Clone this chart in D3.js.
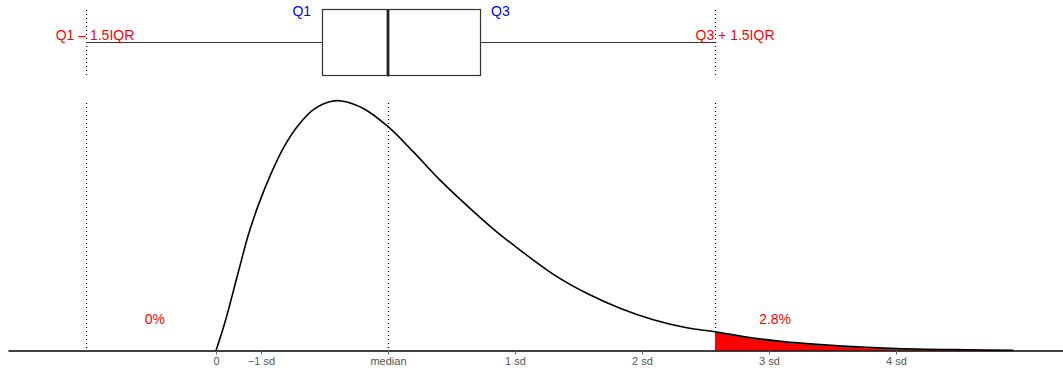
<!DOCTYPE html>
<html>
<head>
<meta charset="utf-8">
<script src="https://cdn.jsdelivr.net/npm/d3@7"></script>
<style>
  body { margin: 0; background: #fff; }
  svg { display: block; font-family: "Liberation Sans", Arial, sans-serif; }
</style>
</head>
<body>
<div id="chart"></div>
<script>
// values are in "sd units", with 0 at the origin of the variable
var curveX = [0, 0.071, 0.176, 0.254, 0.333, 0.439, 0.543, 0.648, 0.780, 0.911, 0.990, 1.160, 1.357, 1.554, 1.764, 2.000, 2.210, 2.394, 2.656, 2.919, 3.181, 3.443, 3.706, 3.929, 4.205, 4.467, 4.730, 5.124, 5.517, 5.911, 6.278]
var curveY = [0, 0.114, 0.315, 0.462, 0.582, 0.715, 0.822, 0.902, 0.969, 0.998, 0.999, 0.969, 0.895, 0.795, 0.682, 0.569, 0.475, 0.402, 0.305, 0.229, 0.169, 0.123, 0.091, 0.075, 0.052, 0.036, 0.025, 0.013, 0.006, 0.003, 0.001]

var median = 1.354
var q1 = 0.835
var q3 = 2.079
var whiskerLo = -1.024
var whiskerHi = 3.929

var tickValues = [0, 0.354, 1.354, 2.354, 3.354, 4.354, 5.354]
var tickLabels = ["0", "\u22121 sd", "median", "1 sd", "2 sd", "3 sd", "4 sd"]

var tailLabels = ["0%", "2.8%"]
var tailLabelX = [-0.482, 4.402]

var width = 1063
var height = 371

var svg = d3.select("#chart")
    .append("svg")
    .attr("width", width)
    .attr("height", height)

var x = d3.scaleLinear()
    .domain([-1.638, 6.669])
    .range([8, 1063])

var y = d3.scaleLinear()
    .domain([0, 1])
    .range([350.5, 100.7])

var points = curveX.map((v, i) => { return {x: v, y: curveY[i]} })

// dotted reference lines
var refs = [whiskerLo, median, whiskerHi]
svg.append("g")
    .selectAll("line")
    .data(refs)
    .enter()
    .append("line")
    .attr("x1", (d) => { return Math.round(x(d)) + 0.5 })
    .attr("x2", (d) => { return Math.round(x(d)) + 0.5 })
    .attr("y1", 103)
    .attr("y2", 350)
    .attr("stroke", "#000")
    .attr("stroke-width", 1.2)
    .attr("stroke-dasharray", "1,3")

svg.append("g")
    .selectAll("line")
    .data([whiskerLo, whiskerHi])
    .enter()
    .append("line")
    .attr("x1", (d) => { return Math.round(x(d)) + 0.5 })
    .attr("x2", (d) => { return Math.round(x(d)) + 0.5 })
    .attr("y1", 10)
    .attr("y2", 78)
    .attr("stroke", "#000")
    .attr("stroke-width", 1.2)
    .attr("stroke-dasharray", "1,3")

// boxplot
var boxTop = 9.5, boxBottom = 75.5, whiskerY = 42.5

svg.append("line")
    .attr("x1", x(whiskerLo))
    .attr("x2", x(q1))
    .attr("y1", whiskerY)
    .attr("y2", whiskerY)
    .attr("stroke", "#333")
    .attr("stroke-width", 1.2)

svg.append("line")
    .attr("x1", x(q3))
    .attr("x2", x(whiskerHi))
    .attr("y1", whiskerY)
    .attr("y2", whiskerY)
    .attr("stroke", "#333")
    .attr("stroke-width", 1.2)

svg.append("rect")
    .attr("x", Math.round(x(q1)) + 0.5)
    .attr("y", boxTop)
    .attr("width", Math.round(x(q3)) - Math.round(x(q1)))
    .attr("height", boxBottom - boxTop)
    .attr("fill", "none")
    .attr("stroke", "#333")
    .attr("stroke-width", 1.2)

svg.append("line")
    .attr("x1", x(median))
    .attr("x2", x(median))
    .attr("y1", boxTop)
    .attr("y2", boxBottom)
    .attr("stroke", "#222")
    .attr("stroke-width", 2.8)

svg.append("line")
    .attr("x1", Math.round(x(median)) + 0.5)
    .attr("x2", Math.round(x(median)) + 0.5)
    .attr("y1", boxBottom)
    .attr("y2", 79)
    .attr("stroke", "#000")
    .attr("stroke-width", 1.2)
    .attr("stroke-dasharray", "1,3")

svg.append("text")
    .attr("x", x(q1) - 11)
    .attr("y", 16)
    .attr("text-anchor", "end")
    .attr("fill", "blue")
    .attr("font-size", 14)
    .text("Q1")

svg.append("text")
    .attr("x", x(q3) + 11)
    .attr("y", 16)
    .attr("fill", "blue")
    .attr("font-size", 14)
    .text("Q3")

svg.append("text")
    .attr("x", x(whiskerLo) + 9)
    .attr("y", 40)
    .attr("text-anchor", "middle")
    .attr("fill", "red")
    .attr("font-size", 14)
    .text("Q1 \u2013 1.5IQR")

svg.append("text")
    .attr("x", x(whiskerHi) + 20)
    .attr("y", 40)
    .attr("text-anchor", "middle")
    .attr("fill", "red")
    .attr("font-size", 14)
    .text("Q3 + 1.5IQR")

// tail area
var area = d3.area()
    .x((d) => { return x(d.x) })
    .y0(y(0))
    .y1((d) => { return y(d.y) })
    .curve(d3.curveCatmullRom.alpha(0.5))

svg.append("path")
    .datum(points.filter((d) => { return d.x >= whiskerHi }))
    .attr("d", area)
    .attr("fill", "red")

var line = d3.line()
    .x((d) => { return x(d.x) })
    .y((d) => { return y(d.y) })
    .curve(d3.curveCatmullRom.alpha(0.5))

svg.append("path")
    .datum(points)
    .attr("d", line)
    .attr("fill", "none")
    .attr("stroke", "#000")
    .attr("stroke-width", 1.6)

// axis
var axis = d3.axisBottom(x)
    .tickValues(tickValues)
    .tickFormat((d, i) => { return tickLabels[i] })
    .tickSize(4)
    .tickSizeOuter(0)

var gAxis = svg.append("g")
    .attr("transform", "translate(0," + 350.5 + ")")
    .call(axis)

gAxis.select(".domain")
    .attr("stroke", "#000")
    .attr("stroke-width", 1.6)
gAxis.selectAll(".tick line")
    .attr("stroke", "#666")
gAxis.selectAll(".tick text")
    .attr("fill", "#555")
    .attr("font-size", 11)
    .attr("font-family", "Liberation Sans, Arial, sans-serif")
    .attr("dy", "0.71em")
    .attr("y", 7)

svg.append("g")
    .selectAll("text")
    .data(tailLabels)
    .enter()
    .append("text")
    .attr("x", (d, i) => { return x(tailLabelX[i]) })
    .attr("y", 324)
    .attr("text-anchor", "middle")
    .attr("fill", "red")
    .attr("font-size", 14)
    .text((d) => { return d })
</script>
</body>
</html>
